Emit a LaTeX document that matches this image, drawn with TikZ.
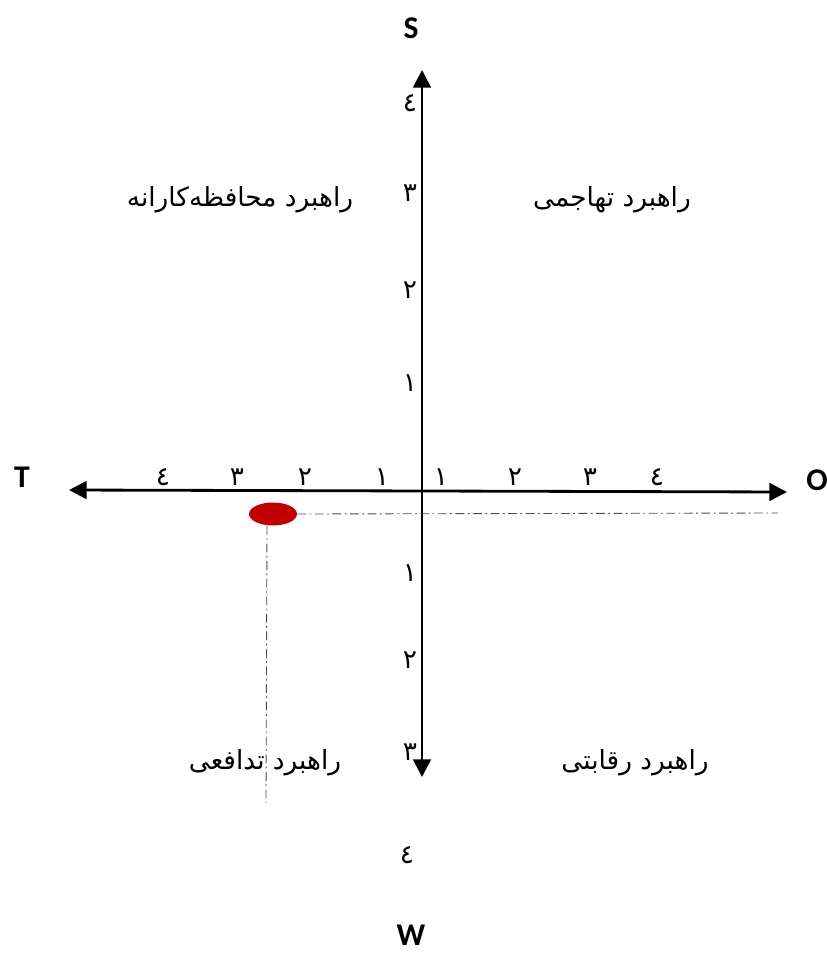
\documentclass[tikz,border=0pt]{standalone}
\usepackage{fontspec}
\newfontfamily\arabicfont[Script=Arabic]{DejaVu Sans}
\newfontfamily\polefont{Carlito}
\TeXXeTstate=1
\usetikzlibrary{arrows.meta,shapes.geometric}
\definecolor{spotred}{HTML}{C00000}
\begin{document}
\begin{tikzpicture}[x=0.02cm,y=-0.02cm,every node/.style={inner sep=0pt}]
    \tikzset{
      axis/.style={line width=1.6pt,{Triangle[length=10pt,width=10pt]}-{Triangle[length=10pt,width=10pt]}},
      guide/.style={black!70,line width=0.5pt,dash pattern=on 5pt off 2pt on 1pt off 2pt},
      tick/.style={font=\arabicfont\fontsize{15}{17}\selectfont},
      quad/.style={font=\arabicfont\fontsize{15}{17}\selectfont},
      pole/.style={font=\polefont\bfseries\fontsize{18}{20}\selectfont},
      spot/.style={ellipse,fill=spotred,minimum width=0.96cm,minimum height=0.46cm}
    }
    \useasboundingbox (0,0) rectangle (827,953);
    \coordinate (top) at (422,70);
    \coordinate (bot) at (422,777);
    \coordinate (lft) at (69,490);
    \coordinate (rgt) at (787,492);
    \draw[axis] (bot) -- (top);
    \draw[axis] (lft) -- (rgt);
    \node[pole] (S) at (411,28) {S};
    \node[pole] (W) at (411,935) {W};
    \node[pole] (T) at (22,477) {T};
    \node[pole] (O) at (817,480) {O};
    \foreach \x/\lab in {163/٤,237/٣,305/٢,382/١,441/١,515/٢,590/٣,657/٤} {
      \node[tick] (h\x) at (\x,477) {\lab};
    }
    \foreach \y/\lab in {103/٤,193/٣,290/٢,383/١,573/١,660/٢,752/٣} {
      \node[tick] (v\y) at (410,\y) {\lab};
    }
    \node[tick] (v855) at (407,855) {٤};
    \node[quad] (conserv) at (240,200) {\beginR راهبرد محافظه^^^^200cکارانه\endR};
    \node[quad] (aggress) at (612,200) {\beginR راهبرد تهاجمی\endR};
    \node[quad] (defens) at (265,763) {\beginR راهبرد تدافعی\endR};
    \node[quad] (compet) at (635,763) {\beginR راهبرد رقابتی\endR};
    \node[spot] (pt) at (273,514) {};
    \coordinate (hend) at (778,513);
    \coordinate (vtop) at (267,526);
    \coordinate (vend) at (266,803);
    \draw[guide] (pt.east) -- (hend);
    \draw[guide] (vtop) -- (vend);
\end{tikzpicture}
\end{document}
